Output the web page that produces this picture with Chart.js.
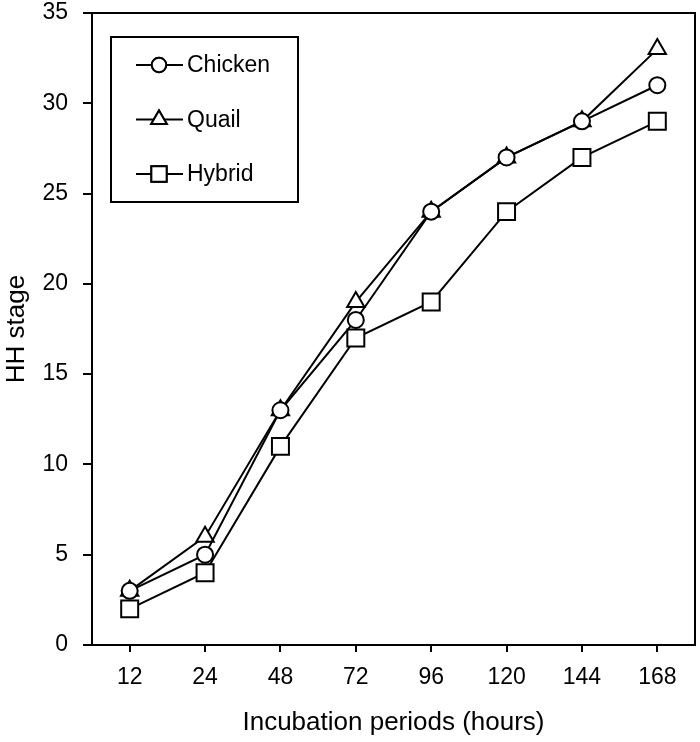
<!DOCTYPE html>
<html>
<head>
<meta charset="utf-8">
<script src="https://cdn.jsdelivr.net/npm/chart.js@4"></script>
<style>
  html, body { margin: 0; padding: 0; background: #fff; overflow: hidden; }
  #wrap { width: 700px; height: 742px; }
  canvas { display: block; }
</style>
</head>
<body>
<div id="wrap"><canvas id="chart"></canvas></div>
<script>
// data
const hours = ['12', '24', '48', '72', '96', '120', '144', '168'];
const chicken = [3, 5, 13, 18, 24, 27, 29, 31];
const quail = [3, 6, 13, 19, 24, 27, 29, 33];
const hybrid = [2, 4, 11, 17, 19, 24, 27, 29];

const FONT = 'Liberation Sans, Arial, sans-serif';

// frame around the plot area (top + right sides)
const frame = {
  id: 'frame',
  afterDraw(chart) {
    const { ctx, chartArea: a } = chart;
    ctx.save();
    ctx.strokeStyle = '#000';
    ctx.lineWidth = 2;
    ctx.strokeRect(a.left, a.top, a.right - a.left, a.bottom - a.top);
    ctx.restore();
  }
};

// boxed legend inside the plot, upper left
const boxLegend = {
  id: 'boxLegend',
  afterDraw(chart) {
    const { ctx, chartArea: a } = chart;
    const x0 = a.left + 19, y0 = a.top + 24, w = 187, h = 165;
    ctx.save();
    ctx.strokeStyle = '#000';
    ctx.lineWidth = 2;
    ctx.strokeRect(x0, y0, w, h);
    chart.data.datasets.forEach((ds, i) => {
      const y = y0 + 28 + i * 54.5;
      const cx = x0 + 48;
      ctx.strokeStyle = '#000';
      ctx.lineWidth = 2;
      ctx.beginPath();
      ctx.moveTo(x0 + 25, y);
      ctx.lineTo(x0 + 72, y);
      ctx.stroke();
      Chart.helpers.drawPoint(ctx, {
        pointStyle: ds.pointStyle,
        radius: ds.pointRadius * 0.9,
        borderWidth: 2
      }, cx, y);
      ctx.fillStyle = '#fff';
      ctx.fill();
      ctx.stroke();
      ctx.fillStyle = '#000';
      ctx.font = '23px ' + FONT;
      ctx.textBaseline = 'middle';
      ctx.fillText(ds.label, x0 + 76, y + 1);
    });
    ctx.restore();
  }
};

function series(label, data, style, r) {
  return {
    label: label,
    data: data,
    borderColor: '#000',
    borderWidth: 2,
    pointStyle: style,
    pointRadius: r,
    pointHoverRadius: r,
    pointBackgroundColor: '#fff',
    pointBorderColor: '#000',
    pointBorderWidth: 2,
    tension: 0,
    fill: false
  };
}

new Chart(document.getElementById('chart'), {
  type: 'line',
  data: {
    labels: hours,
    datasets: [
      series('Chicken', chicken, 'circle', 8),
      series('Quail', quail, 'triangle', 10),
      series('Hybrid', hybrid, 'rect', 12)
    ]
  },
  options: {
    responsive: true,
    maintainAspectRatio: false,
    animation: false,
    layout: { autoPadding: false, padding: { top: 13, right: 5, bottom: 0, left: 0 } },
    plugins: { legend: { display: false }, tooltip: { enabled: false } },
    scales: {
      x: {
        offset: true,
        afterFit: s => { s.height = 97; s.paddingLeft = 0; s.paddingRight = 0; },
        grid: { display: true, drawOnChartArea: false, tickLength: 7, color: '#000', lineWidth: 2, offset: false },
        border: { color: '#000', width: 2 },
        ticks: { color: '#000', font: { family: FONT, size: 23 }, padding: 12 },
        title: { display: true, text: 'Incubation periods (hours)', color: '#000', font: { family: FONT, size: 26 }, padding: { top: 4, bottom: 4 } }
      },
      y: {
        min: 0,
        max: 35,
        afterFit: s => { s.width = 92; s.paddingTop = 0; s.paddingBottom = 0; },
        ticks: { stepSize: 5, color: '#000', font: { family: FONT, size: 23 }, padding: 15 },
        grid: { drawOnChartArea: false, tickLength: 9, color: '#000', lineWidth: 2 },
        border: { color: '#000', width: 2 },
        title: { display: true, text: 'HH stage', color: '#000', font: { family: FONT, size: 26 }, padding: { top: 1, bottom: 4 } }
      }
    }
  },
  plugins: [frame, boxLegend]
});
</script>
</body>
</html>
